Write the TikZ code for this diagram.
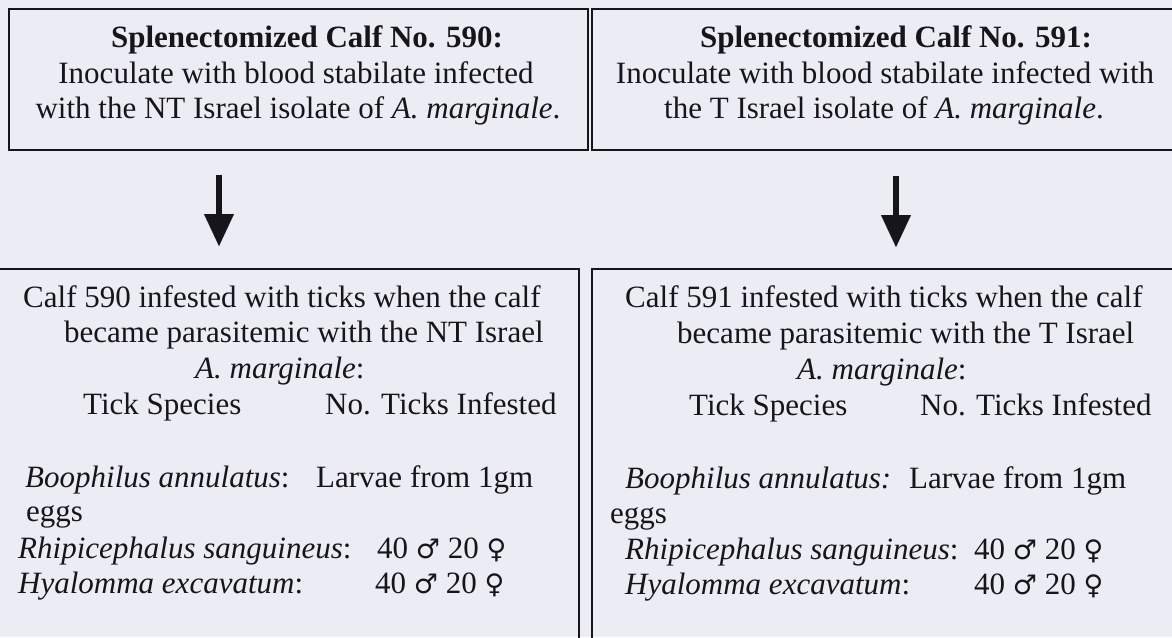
\documentclass[tikz,border=0pt]{standalone}
\usepackage{fontspec}
\setmainfont{Liberation Serif}
\newfontfamily\symfont{DejaVu Sans}
\usetikzlibrary{arrows.meta}
\definecolor{bgc}{RGB}{236,236,245}
\definecolor{ink}{RGB}{22,22,26}
\newcommand{\malesym}{{\symfont\fontsize{27}{35}\selectfont ♂}}
\newcommand{\femsym}{{\symfont\fontsize{27}{35}\selectfont ♀}}
\begin{document}
\begin{tikzpicture}[x=1pt,y=-1pt,
  box/.style={draw=ink,line width=1.8pt,rectangle,inner sep=0pt,anchor=north west},
  txt/.style={inner sep=0pt,text=ink,font=\fontsize{31}{35}\selectfont},
  bold/.style={txt,font=\fontsize{31}{35}\selectfont\bfseries},
  flow/.style={draw=ink,line width=6pt,-{Triangle[width=30pt,length=32pt,line width=0.1pt]}}]
\useasboundingbox (0,0) rectangle (1172,637);
\clip (0,0) rectangle (1172,637);
\fill[bgc] (0,0) rectangle (1172,637);
% boxes
\node[box,minimum width=579pt,minimum height=141pt] (b1) at (8,8) {};
\node[box,minimum width=600pt,minimum height=141pt] (b2) at (591,8) {};
\node[box,minimum width=590pt,minimum height=400pt] (b3) at (-12,268) {};
\node[box,minimum width=600pt,minimum height=400pt] (b4) at (591,268) {};
% top-left text
\node[bold,anchor=base] (t1a) at (307,47) {Splenectomized Calf No. 590:};
\node[txt,anchor=base] (t1b) at (296,83) {Inoculate with blood stabilate infected};
\node[txt,anchor=base] (t1c) at (298,118) {with the NT Israel isolate of \textit{A. marginale}.};
% top-right text
\node[bold,anchor=base] (t2a) at (896,47) {Splenectomized Calf No. 591:};
\node[txt,anchor=base] (t2b) at (885,83) {Inoculate with blood stabilate infected with};
\node[txt,anchor=base] (t2c) at (884,118) {the T Israel isolate of \textit{A. marginale}.};
% arrows
\coordinate (a1s) at (219,175);
\coordinate (a1e) at (219,246);
\coordinate (a2s) at (896,176);
\coordinate (a2e) at (896,247);
\draw[flow] (a1s) -- (a1e);
\draw[flow] (a2s) -- (a2e);
% bottom-left text
\node[txt,anchor=base west] (l1) at (23,307) {Calf 590 infested with ticks when the calf};
\node[txt,anchor=base west] (l2) at (64,342) {became parasitemic with the NT Israel};
\node[txt,anchor=base west] (l3) at (195,378) {\textit{A. marginale}:};
\node[txt,anchor=base west] (l4) at (83,414) {Tick Species};
\node[txt,anchor=base west] (l5) at (325,414) {No. Ticks Infested};
\node[txt,anchor=base west] (l6) at (25,487) {\textit{Boophilus annulatus}:};
\node[txt,anchor=base west] (l7) at (316,487) {Larvae from 1gm};
\node[txt,anchor=base west] (l8) at (26,521) {eggs};
\node[txt,anchor=base west] (l9) at (18,558) {\textit{Rhipicephalus sanguineus}:};
\node[txt,anchor=base west] (l10) at (377,558) {40 \malesym\ 20 \femsym};
\node[txt,anchor=base west] (l11) at (18,593) {\textit{Hyalomma excavatum}:};
\node[txt,anchor=base west] (l12) at (375,593) {40 \malesym\ 20 \femsym};
% bottom-right text
\node[txt,anchor=base west] (r1) at (625,307) {Calf 591 infested with ticks when the calf};
\node[txt,anchor=base west] (r2) at (677,343) {became parasitemic with the T Israel};
\node[txt,anchor=base west] (r3) at (797,379) {\textit{A. marginale}:};
\node[txt,anchor=base west] (r4) at (689,415) {Tick Species};
\node[txt,anchor=base west] (r5) at (920,415) {No. Ticks Infested};
\node[txt,anchor=base west] (r6) at (625,488) {\textit{Boophilus annulatus:}};
\node[txt,anchor=base west] (r7) at (909,488) {Larvae from 1gm};
\node[txt,anchor=base west] (r8) at (610,523) {eggs};
\node[txt,anchor=base west] (r9) at (625,559) {\textit{Rhipicephalus sanguineus}:};
\node[txt,anchor=base west] (r10) at (974,559) {40 \malesym\ 20 \femsym};
\node[txt,anchor=base west] (r11) at (625,594) {\textit{Hyalomma excavatum}:};
\node[txt,anchor=base west] (r12) at (974,594) {40 \malesym\ 20 \femsym};
\end{tikzpicture}
\end{document}
